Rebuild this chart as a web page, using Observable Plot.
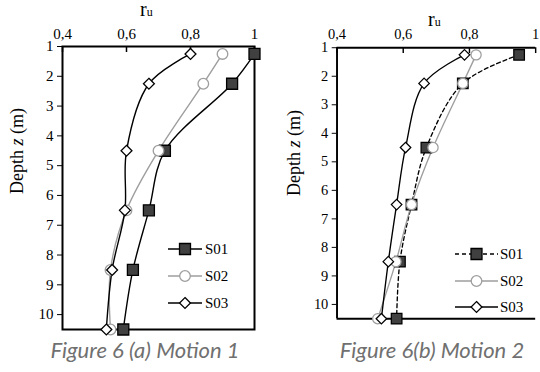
<!DOCTYPE html>
<html><head><meta charset="utf-8">
<script src="https://cdn.jsdelivr.net/npm/d3@7"></script>
<script src="https://cdn.jsdelivr.net/npm/@observablehq/plot@0.6"></script>
<style>
body{margin:0;background:#fff;}
#root{position:relative;width:540px;height:372px;overflow:hidden;background:#fff;}
.panel{position:absolute;top:0;overflow:hidden;}
#ov{position:absolute;left:0;top:0;pointer-events:none;}
#root svg, #root svg text{font-family:"Liberation Serif",serif !important;}
#root svg text.cap{font-family:"Lato",sans-serif !important;font-style:italic;}
</style></head>
<body><div id="root"></div>
<script>
// ---- data ----
const depths = [1.25, 2.25, 4.5, 6.5, 8.5, 10.5];
const seriesNames = ["S01", "S02", "S03"];
// Motion 1 (a)
const m1_S01 = [1.00, 0.93, 0.72, 0.67, 0.62, 0.59];
const m1_S02 = [0.90, 0.84, 0.70, 0.60, 0.55, 0.55];
const m1_S03 = [0.80, 0.67, 0.60, 0.595, 0.555, 0.537];
// Motion 2 (b)
const m2_S01 = [0.95, 0.78, 0.67, 0.625, 0.59, 0.58];
const m2_S02 = [0.82, 0.78, 0.69, 0.625, 0.578, 0.523];
const m2_S03 = [0.785, 0.663, 0.607, 0.58, 0.555, 0.534];
const xTicks = [0.4, 0.6, 0.8, 1.0];
const yTicks = [1, 2, 3, 4, 5, 6, 7, 8, 9, 10];
const captions = ["Figure 6 (a) Motion 1", "Figure 6(b) Motion 2"];

const styles = {
  S01: {stroke: "#000", fill: "#404040", dotStroke: "#000", symbol: "square", r: 6.2},
  S02: {stroke: "#9e9e9e", fill: "#fff", dotStroke: "#9e9e9e", symbol: "circle", r: 5.3},
  S03: {stroke: "#000", fill: "#fff", dotStroke: "#000", symbol: "diamond2", r: 4.9}
};

function table(arrs) {
  return seriesNames.flatMap((s, k) => depths.map((d, i) => ({s, depth: d, ru: arrs[k][i]})));
}
const fmt = d => d === 1 ? "1" : d.toFixed(1).replace(".", ",");

function panel(rows, opt) {
  const plotH = opt.height - opt.marginTop - opt.marginBottom;
  const marks = [
    Plot.ruleX(xTicks, {x: d => d, stroke: "#000", strokeWidth: 1.5, insetBottom: plotH - 6}),
  ];
  if (opt.fullFrame) marks.push(Plot.frame({stroke: "#000", strokeWidth: 2}));
  else {
    marks.push(Plot.ruleY([1, 10.5], {y: d => d, stroke: "#000", strokeWidth: 2}));
    marks.push(Plot.ruleX([0.4], {x: d => d, stroke: "#000", strokeWidth: 2}));
  }
  for (const s of seriesNames) {
    const st = styles[s];
    marks.push(Plot.line(rows.filter(r => r.s === s), {
      x: "ru", y: "depth", curve: "catmull-rom", stroke: st.stroke, strokeWidth: 1.4,
      strokeDasharray: (opt.dashS01 && s === "S01") ? "4,3" : null
    }));
  }
  for (const s of seriesNames) {
    const st = styles[s];
    marks.push(Plot.dot(rows.filter(r => r.s === s), {
      x: "ru", y: "depth", symbol: st.symbol, r: st.r, fill: st.fill, stroke: st.dotStroke, strokeWidth: 1.3
    }));
  }
  return Plot.plot({
    width: opt.width, height: opt.height,
    marginLeft: opt.marginLeft, marginRight: opt.marginRight,
    marginTop: opt.marginTop, marginBottom: opt.marginBottom,
    style: {fontSize: "15px", color: "#000", background: "transparent", overflow: "visible"},
    x: {domain: [0.4, 1], axis: "top", ticks: xTicks, tickFormat: fmt, tickSize: 0, tickPadding: opt.xPad, label: null},
    y: {domain: [1, 10.5], reverse: true, ticks: yTicks, tickSize: 5, tickPadding: 4, label: null},
    marks
  });
}

const root = document.getElementById("root");
const p1 = document.createElement("div");
p1.className = "panel"; p1.style.left = "0px"; p1.style.width = "270px"; p1.style.height = "372px";
p1.appendChild(panel(table([m1_S01, m1_S02, m1_S03]), {
  width: 270, height: 335, marginLeft: 62, marginRight: 16, marginTop: 46, marginBottom: 6, fullFrame: true, xPad: 8
}));
root.appendChild(p1);
const p2 = document.createElement("div");
p2.className = "panel"; p2.style.left = "270px"; p2.style.width = "270px"; p2.style.height = "372px";
p2.appendChild(panel(table([m2_S01, m2_S02, m2_S03]), {
  width: 280, height: 336, marginLeft: 69, marginRight: 5, marginTop: 49, marginBottom: 6, fullFrame: false, dashS01: true, xPad: 9
}));
root.appendChild(p2);

// ---- overlay annotations (titles, axis labels, legends, captions) ----
const ov = d3.select(root).append("svg").attr("id", "ov").attr("width", 540).attr("height", 372);
function title(x, y) {
  const t = ov.append("text").attr("x", x).attr("y", y).attr("fill", "#000");
  t.append("tspan").attr("font-size", 20).text("r");
  t.append("tspan").attr("font-size", 12).text("u");
}
title(140, 16); title(428, 26);
function ylab(x, y) {
  const t = ov.append("text").attr("transform", `translate(${x},${y}) rotate(-90)`).attr("text-anchor", "middle")
    .attr("font-size", 18).attr("fill", "#000");
  t.append("tspan").text("Depth ");
  t.append("tspan").attr("font-style", "italic").text("z");
  t.append("tspan").text(" (m)");
}
ylab(23, 151); ylab(300, 153);
function caption(x, y, s) {
  ov.append("text").attr("class", "cap").attr("x", x).attr("y", y).attr("text-anchor", "middle")
    .attr("font-size", 22).attr("fill", "#707070").text(s);
}
caption(145, 358, captions[0]); caption(432, 358, captions[1]);
const symMap = {square: d3.symbolSquare, circle: d3.symbolCircle, diamond2: d3.symbolDiamond2};
function legend(x1, x2, xt, ys, dash) {
  seriesNames.forEach((s, i) => {
    const st = styles[s], y = ys[i], xm = (x1 + x2) / 2;
    ov.append("line").attr("x1", x1).attr("x2", x2).attr("y1", y).attr("y2", y)
      .attr("stroke", st.stroke).attr("stroke-width", 1.5)
      .attr("stroke-dasharray", dash && s === "S01" ? "4,3" : null);
    ov.append("path").attr("transform", `translate(${xm},${y})`)
      .attr("d", d3.symbol(symMap[st.symbol], Math.PI * st.r * st.r)())
      .attr("fill", st.fill).attr("stroke", st.dotStroke).attr("stroke-width", 1.3);
    ov.append("text").attr("x", xt).attr("y", y).attr("dy", "0.35em")
      .attr("font-size", 15).attr("fill", "#000").text(s);
  });
}
legend(168, 202, 205, [249, 276, 303], false);
legend(455, 498, 500, [254, 281, 307], true);
</script>
</body></html>
